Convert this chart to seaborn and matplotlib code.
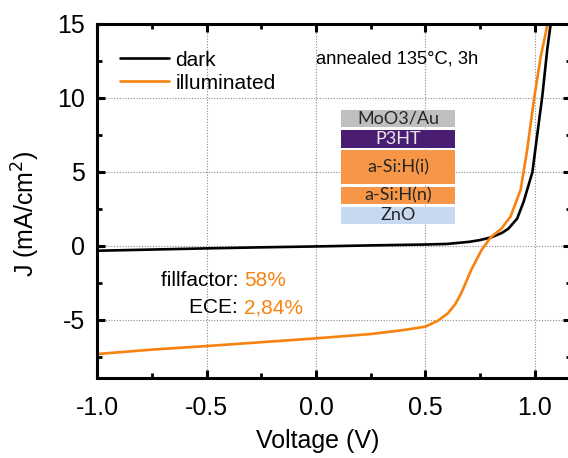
import numpy as np
import pandas as pd
import matplotlib
matplotlib.use("Agg")
import matplotlib.pyplot as plt
from matplotlib.patches import Rectangle
from matplotlib.lines import Line2D
import seaborn as sns

# J-V data (V in volts, J in mA/cm^2)
dark_v = [-1.0, -0.75, -0.5, -0.25, 0.0, 0.25, 0.5, 0.6, 0.7, 0.75, 0.8, 0.85,
          0.88, 0.92, 0.95, 0.97, 0.99, 1.01, 1.035, 1.058, 1.078]
dark_j = [-0.32, -0.24, -0.16, -0.09, -0.03, 0.04, 0.1, 0.14, 0.28, 0.4, 0.58, 0.88,
          1.17, 1.85, 3.0, 4.0, 5.0, 7.3, 10.1, 13.3, 15.5]

illum_v = [-1.0, -0.75, -0.5, -0.25, 0.0, 0.25, 0.4, 0.5, 0.557, 0.603, 0.636, 0.664,
           0.71, 0.756, 0.8, 0.847, 0.89, 0.936, 0.966, 0.997, 1.028, 1.058, 1.07]
illum_j = [-7.3, -7.0, -6.76, -6.5, -6.24, -5.95, -5.68, -5.45, -5.05, -4.55, -3.95, -3.2,
           -1.62, -0.3, 0.6, 1.15, 2.0, 3.8, 6.5, 9.9, 12.8, 14.9, 16.0]

series_names = ["dark", "illuminated"]
series_colors = ["black", "#f7820f"]

layer_names = ["MoO3/Au", "P3HT", "a-Si:H(i)", "a-Si:H(n)", "ZnO"]
layer_colors = ["#bfbfbf", "#4b1d72", "#f79646", "#f79646", "#c6d9f1"]
layer_text_colors = ["#262626", "#e6e6e6", "#262626", "#262626", "#262626"]

fillfactor = "58%"
ece = "2,84%"

df = pd.concat([
    pd.DataFrame({"V": dark_v, "J": dark_j, "curve": "dark"}),
    pd.DataFrame({"V": illum_v, "J": illum_j, "curve": "illuminated"}),
])

sns.set_theme(style="ticks")
plt.rcParams["font.family"] = ["Liberation Sans", "DejaVu Sans"]
plt.rcParams["text.color"] = "black"
plt.rcParams["axes.labelcolor"] = "black"
plt.rcParams["xtick.color"] = "black"
plt.rcParams["ytick.color"] = "black"

fig = plt.figure(figsize=(5.68, 4.58), dpi=100)
ax = fig.add_axes([0.1715, 0.174, 0.834, 0.7736])

ax.grid(True, which="major", linestyle=(0, (1, 1.5)), color="#8c8c8c", linewidth=0.8)
ax.set_axisbelow(True)

sns.lineplot(data=df, x="V", y="J", hue="curve", palette=dict(zip(series_names, series_colors)),
             linewidth=1.9, sort=True, legend=False, ax=ax)

ax.set_xlim(-1.0, 1.167)
ax.set_ylim(-8.94, 15)
ax.set_xticks([-1.0, -0.5, 0.0, 0.5, 1.0])
ax.set_xticks([-0.75, -0.25, 0.25, 0.75], minor=True)
ax.set_yticks([-5, 0, 5, 10, 15])
ax.set_yticks([-7.5, -2.5, 2.5, 7.5, 12.5], minor=True)
ax.set_xticklabels(["-1.0", "-0.5", "0.0", "0.5", "1.0"])
ax.set_yticklabels(["-5", "0", "5", "10", "15"])

for s in ax.spines.values():
    s.set_linewidth(2.2)
    s.set_color("black")
ax.tick_params(which="both", direction="in", top=True, right=True, color="black")
ax.tick_params(which="major", length=6, width=2.2, labelsize=18)
ax.tick_params(axis="x", which="major", pad=13)
ax.tick_params(axis="y", which="major", pad=9)
ax.tick_params(which="minor", length=3.5, width=2.0)

ax.set_xlabel("Voltage (V)", fontsize=18)
ax.set_ylabel("J (mA/cm$^2$)", fontsize=18)
ax.xaxis.set_label_coords(0.466, -0.142)
ax.yaxis.set_label_coords(-0.117, 0.464)

handles = [Line2D([], [], color=c, linewidth=1.9) for c in series_colors]
ax.legend(handles, series_names, loc="upper left", bbox_to_anchor=(0.048, 0.925),
          frameon=False, fontsize=15, handlelength=2.36, handletextpad=0.3,
          labelspacing=0.2, borderpad=0, borderaxespad=0)

ax.text(0.4616, 0.902, "annealed 135°C, 3h", transform=ax.transAxes, fontsize=13.2,
        ha="left", va="center")

# efficiency annotations
ax.text(-0.33, -2.3, "fillfactor: ", fontsize=15, ha="right", va="center")
ax.text(-0.33, -2.3, fillfactor, fontsize=15, ha="left", va="center", color=series_colors[1])
ax.text(-0.33, -4.17, "ECE: ", fontsize=15, ha="right", va="center")
ax.text(-0.33, -4.17, ece, fontsize=15, ha="left", va="center", color=series_colors[1])

# device layer stack sketch (axes fractions)
stack_left, stack_width = 0.5137, 0.2414
stack_tops = [0.7573, 0.7008, 0.6444, 0.5391, 0.4843]
stack_bottoms = [0.7084, 0.6509, 0.5476, 0.4911, 0.4355]
for name, col, tcol, top, bot in zip(layer_names, layer_colors, layer_text_colors,
                                     stack_tops, stack_bottoms):
    ax.add_patch(Rectangle((stack_left, bot), stack_width, top - bot, transform=ax.transAxes,
                           facecolor=col, edgecolor="none", zorder=3))
    ax.text(stack_left + stack_width / 2, (top + bot) / 2, name, transform=ax.transAxes,
            fontsize=13, ha="center", va="center", color=tcol, family=["Lato", "DejaVu Sans"],
            zorder=4)

fig.savefig("out.png", dpi=100)
